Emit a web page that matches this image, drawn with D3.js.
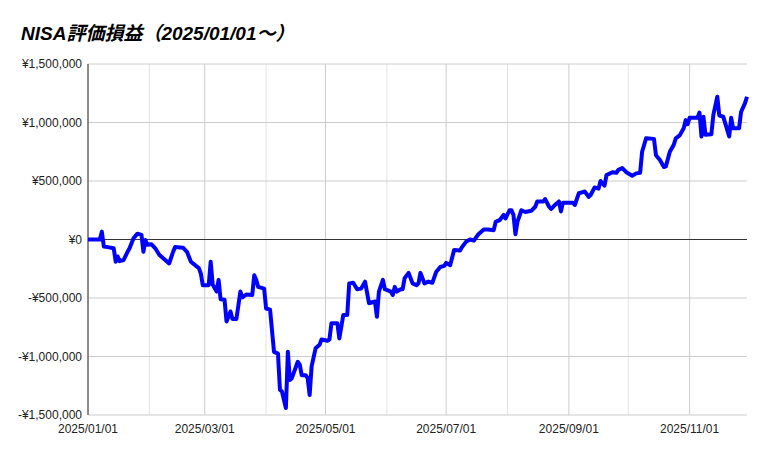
<!DOCTYPE html>
<html lang="ja">
    <head>
        <meta charset="utf-8">
        <title>NISA評価損益</title>
        <script type="text/javascript" src="https://cdn.jsdelivr.net/npm/d3@7/dist/d3.min.js"></script>
		<style>
		body {margin: 0; background: white}
		svg text {font-family: "Liberation Sans", Arial, "Noto Sans CJK JP", sans-serif}
		.titre {font-size: 19px; font-weight: bold; font-style: italic}
		.tick {font-size: 12px; fill: #222}
		</style>
    </head>
    <body>
		<svg width="769" height="457"></svg>
		<script type="text/javascript">
		const titre = "NISA評価損益（2025/01/01～）";

		/// dates and valuation gain/loss (yen)
		const dates = [
			"2025-01-01","2025-01-07","2025-01-08","2025-01-09","2025-01-11","2025-01-14","2025-01-15","2025-01-16","2025-01-17","2025-01-19",
			"2025-01-21","2025-01-22","2025-01-24","2025-01-26","2025-01-28","2025-01-29","2025-01-30","2025-01-31","2025-02-02","2025-02-04",
			"2025-02-06","2025-02-09","2025-02-11","2025-02-13","2025-02-14","2025-02-18","2025-02-20","2025-02-22","2025-02-26","2025-02-27",
			"2025-02-28","2025-03-03","2025-03-04","2025-03-05","2025-03-07","2025-03-08","2025-03-09","2025-03-11","2025-03-12","2025-03-14",
			"2025-03-15","2025-03-17","2025-03-19","2025-03-20","2025-03-22","2025-03-25","2025-03-26","2025-03-27","2025-03-28","2025-03-31",
			"2025-04-01","2025-04-03","2025-04-05","2025-04-07","2025-04-08","2025-04-09","2025-04-11","2025-04-12","2025-04-13","2025-04-14",
			"2025-04-17","2025-04-18","2025-04-19","2025-04-21","2025-04-22","2025-04-23","2025-04-24","2025-04-26","2025-04-28","2025-04-29",
			"2025-05-02","2025-05-03","2025-05-04","2025-05-07","2025-05-08","2025-05-10","2025-05-12","2025-05-13","2025-05-15","2025-05-17",
			"2025-05-19","2025-05-21","2025-05-23","2025-05-26","2025-05-27","2025-05-28","2025-05-30","2025-05-31","2025-06-03","2025-06-04",
			"2025-06-05","2025-06-06","2025-06-08","2025-06-09","2025-06-10","2025-06-12","2025-06-14","2025-06-16","2025-06-17","2025-06-18",
			"2025-06-20","2025-06-22","2025-06-24","2025-06-26","2025-06-28","2025-06-30","2025-07-01","2025-07-03","2025-07-05","2025-07-08",
			"2025-07-09","2025-07-11","2025-07-13","2025-07-15","2025-07-17","2025-07-20","2025-07-22","2025-07-25","2025-07-26","2025-07-28",
			"2025-07-30","2025-07-31","2025-08-02","2025-08-03","2025-08-04","2025-08-05","2025-08-06","2025-08-08","2025-08-10","2025-08-13",
			"2025-08-15","2025-08-16","2025-08-19","2025-08-20","2025-08-22","2025-08-23","2025-08-25","2025-08-27","2025-08-28","2025-08-29",
			"2025-08-31","2025-09-03","2025-09-04","2025-09-06","2025-09-08","2025-09-09","2025-09-11","2025-09-12","2025-09-14","2025-09-16",
			"2025-09-17","2025-09-19","2025-09-20","2025-09-23","2025-09-25","2025-09-26","2025-09-28","2025-09-30","2025-10-03","2025-10-05",
			"2025-10-07","2025-10-08","2025-10-10","2025-10-14","2025-10-15","2025-10-17","2025-10-19","2025-10-20","2025-10-22","2025-10-24",
			"2025-10-25","2025-10-27","2025-10-29","2025-10-30","2025-10-31","2025-11-01","2025-11-05","2025-11-06","2025-11-07","2025-11-08",
			"2025-11-09","2025-11-12","2025-11-13","2025-11-15","2025-11-16","2025-11-18","2025-11-21","2025-11-22","2025-11-23","2025-11-26",
			"2025-11-27","2025-11-29","2025-11-30"
		];
		const valeurs = [
			0, 0, 67000, -60000, -65000, -75000, -190000, -145000, -185000, -175000,
			-105000, -75000, 10000, 50000, 40000, -105000, -5000, -45000, -40000, -75000,
			-130000, -175000, -205000, -105000, -65000, -70000, -105000, -190000, -245000, -290000,
			-390000, -390000, -190000, -385000, -445000, -345000, -510000, -515000, -700000, -615000,
			-680000, -680000, -445000, -495000, -470000, -475000, -305000, -345000, -405000, -420000,
			-590000, -600000, -960000, -975000, -1285000, -1300000, -1440000, -960000, -1200000, -1185000,
			-1045000, -1070000, -1160000, -1160000, -1185000, -1330000, -1085000, -930000, -900000, -855000,
			-865000, -855000, -715000, -715000, -845000, -645000, -645000, -375000, -370000, -425000,
			-420000, -360000, -545000, -530000, -660000, -445000, -345000, -425000, -445000, -475000,
			-405000, -445000, -425000, -425000, -330000, -285000, -375000, -390000, -375000, -285000,
			-375000, -360000, -370000, -275000, -235000, -225000, -200000, -220000, -90000, -95000,
			-65000, -20000, 0, -10000, 40000, 85000, 85000, 80000, 150000, 165000,
			210000, 180000, 250000, 250000, 210000, 45000, 150000, 250000, 235000, 245000,
			280000, 325000, 325000, 345000, 280000, 260000, 295000, 325000, 240000, 315000,
			315000, 315000, 295000, 395000, 405000, 410000, 365000, 380000, 445000, 435000,
			500000, 460000, 550000, 575000, 570000, 595000, 610000, 575000, 545000, 565000,
			570000, 750000, 865000, 860000, 720000, 680000, 620000, 625000, 750000, 810000,
			865000, 890000, 950000, 1020000, 985000, 1040000, 1040000, 1085000, 880000, 1050000,
			895000, 900000, 1065000, 1220000, 1060000, 1050000, 880000, 1040000, 950000, 950000,
			1090000, 1165000, 1220000
		];

		/// axis ticks
		const yTicks = [-1500000, -1000000, -500000, 0, 500000, 1000000, 1500000];
		const xTicks = ["2025-01-01", "2025-03-01", "2025-05-01", "2025-07-01", "2025-09-01", "2025-11-01"];
		const xMinorTicks = ["2025-02-01", "2025-04-01", "2025-06-01", "2025-08-01", "2025-10-01"];

		const parse = d3.timeParse("%Y-%m-%d");
		const points = dates.map(function (d, i) {
			return {date: parse(d), valeur: valeurs[i]};
		});

		const marge = {gauche: 88, droite: 22, haut: 64, bas: 42};
		const largeur = 769, hauteur = 457;

		const x = d3.scaleTime()
				.domain(d3.extent(points, function (d) {return d.date}))
				.range([marge.gauche, largeur - marge.droite]);
		const y = d3.scaleLinear()
				.domain([d3.min(yTicks), d3.max(yTicks)])
				.range([hauteur - marge.bas, marge.haut]);

		const svg = d3.select("svg");

		svg.append("text")
			.classed("titre", true)
			.attr("x", 21)
			.attr("y", 40)
			.text(titre);

		/// vertical gridlines (unlabelled months lighter)
		svg.append("g")
			.selectAll("line")
			.data(xMinorTicks.map(parse))
			.enter()
			.append("line")
				.attr("x1", x).attr("x2", x)
				.attr("y1", y.range()[1]).attr("y2", y.range()[0])
				.attr("stroke", "#e3e3e3");

		svg.append("g")
			.selectAll("line")
			.data(xTicks.map(parse))
			.enter()
			.append("line")
				.attr("x1", x).attr("x2", x)
				.attr("y1", y.range()[1]).attr("y2", y.range()[0])
				.attr("stroke", "#cccccc");

		/// horizontal gridlines
		svg.append("g")
			.selectAll("line")
			.data(yTicks)
			.enter()
			.append("line")
				.attr("x1", x.range()[0]).attr("x2", x.range()[1])
				.attr("y1", y).attr("y2", y)
				.attr("stroke", function (d) {return d === 0 ? "#333333" : "#cccccc"});

		/// left axis line
		svg.append("line")
			.attr("x1", x.range()[0]).attr("x2", x.range()[0])
			.attr("y1", y.range()[1]).attr("y2", y.range()[0])
			.attr("stroke", "#333333");

		const formatYen = function (v) {
			return (v < 0 ? "-¥" : "¥") + d3.format(",")(Math.abs(v));
		};

		svg.append("g")
			.selectAll("text")
			.data(yTicks)
			.enter()
			.append("text")
				.classed("tick", true)
				.attr("x", x.range()[0] - 6)
				.attr("y", function (d) {return y(d) + 4})
				.attr("text-anchor", "end")
				.text(formatYen);

		svg.append("g")
			.selectAll("text")
			.data(xTicks)
			.enter()
			.append("text")
				.classed("tick", true)
				.attr("x", function (d) {return x(parse(d))})
				.attr("y", y.range()[0] + 18)
				.attr("text-anchor", "middle")
				.text(function (d) {return d.replace(/-/g, "/")});

		/// the series
		const ligne = d3.line()
				.x(function (d) {return x(d.date)})
				.y(function (d) {return y(d.valeur)});

		svg.append("path")
			.datum(points)
			.attr("d", ligne)
			.attr("fill", "none")
			.attr("stroke", "#0000ff")
			.attr("stroke-width", 4)
			.attr("stroke-linejoin", "round");
        </script>
    </body>
</html>
